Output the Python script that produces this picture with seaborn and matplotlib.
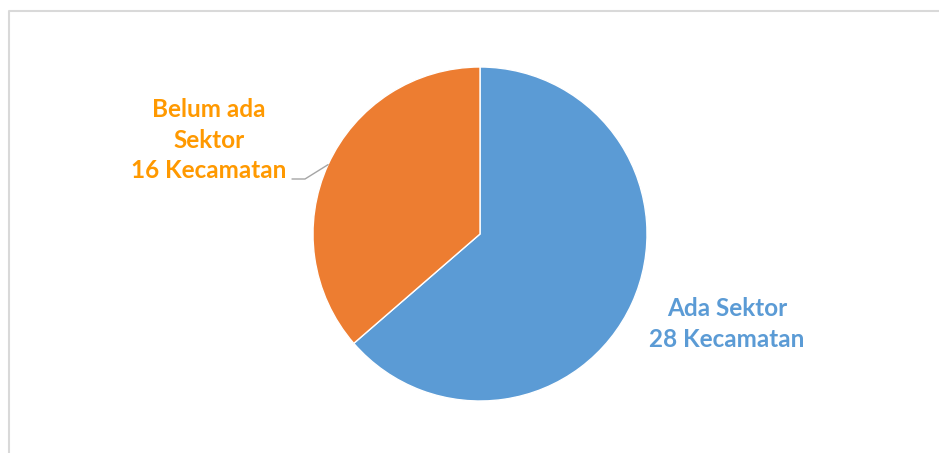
import numpy as np
import matplotlib
matplotlib.use("Agg")
import matplotlib.pyplot as plt
import seaborn as sns

# Data
labels = ["Ada Sektor", "Belum ada\nSektor"]
counts = [28, 16]
unit = "Kecamatan"
wedge_colors = ["#5B9BD5", "#ED7D31"]
text_colors = ["#5B9BD5", "#FF9900"]

# Settings
sns.set_style("white")
plt.rcParams["font.family"] = ["Lato", "DejaVu Sans"]

fig = plt.figure(figsize=(9.39, 4.53), dpi=100)
ax = fig.add_axes([0, 0, 1, 1])

# frame of the chart area
ax.plot([8.5, 8.5, 939], [0, 442.5, 442.5], color="#D9D9D9", lw=1.5,
        solid_capstyle="butt")

cx, cy, r = 480, 219, 167
wedges, _ = ax.pie(counts, colors=wedge_colors, startangle=90, counterclock=False,
                   center=(cx, cy), radius=r, frame=True,
                   wedgeprops=dict(edgecolor="white", linewidth=1))
ax.set_xlim(0, 939)
ax.set_ylim(0, 453)
ax.set_aspect("equal")
ax.axis("off")

fs = 17.5
# Ada Sektor label
ax.text(727, 129, f"{labels[0]}\n{counts[0]} {unit}", ha="center", va="center",
        fontsize=fs, fontweight="bold", color=text_colors[0], linespacing=1.42)

# Belum ada Sektor label with leader line
w = wedges[1]
mid = np.deg2rad((w.theta1 + w.theta2) / 2)
ex, ey = cx + r * np.cos(mid), cy + r * np.sin(mid)
ax.plot([ex, 305, 292], [ey, 274, 274], color="#A5A5A5", lw=1)
ax.text(209, 313, f"{labels[1]}\n{counts[1]} {unit}", ha="center", va="center",
        fontsize=fs, fontweight="bold", color=text_colors[1], linespacing=1.42)

plt.savefig("out.png", dpi=100)
